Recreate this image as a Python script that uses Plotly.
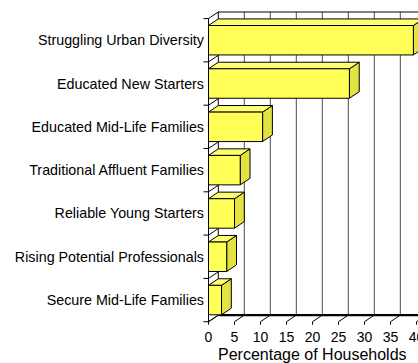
import plotly.graph_objects as go

# Segment shares, listed bottom-to-top as they appear on the chart
segments = [
    "Secure Mid-Life Families",
    "Rising Potential Professionals",
    "Reliable Young Starters",
    "Traditional Affluent Families",
    "Educated Mid-Life Families",
    "Educated New Starters",
    "Struggling Urban Diversity",
]
share_pct = [2.5, 3.5, 5.0, 6.1, 10.4, 27.1, 39.4]

x_ticks = [0, 5, 10, 15, 20, 25, 30, 35, 40]
x_tick_text = [str(v) for v in x_ticks]
x_title = "Percentage of Households"

# --- geometry of the pseudo-3D box (in data units) ---
X_MIN, X_MAX = -1.635, 40.288
Y_MIN, Y_MAX = -0.622, 6.698
DX, DY = 1.885, 0.152        # depth offset of the back wall
HALF = 0.34                   # half thickness of a bar
N = len(segments)
Y_LO, Y_HI = -0.5, N - 0.5

FRONT = "#FFFF57"
TOP = "#FFFF70"
SIDE = "#E2E240"
EDGE = "black"

shapes = []


def line(x0, y0, x1, y1, color=EDGE, width=1):
    shapes.append(dict(type="line", xref="x", yref="y", x0=x0, y0=y0, x1=x1, y1=y1,
                       line=dict(color=color, width=width), layer="below"))


def poly(pts, fill):
    path = "M " + " L ".join(f"{x},{y}" for x, y in pts) + " Z"
    shapes.append(dict(type="path", xref="x", yref="y", path=path, fillcolor=fill,
                       line=dict(color=EDGE, width=1), layer="below"))


# back wall gridlines
for v in x_ticks[1:]:
    line(v + DX, Y_LO + DY, v + DX, Y_HI + DY, color="#4d4d4d")
# back wall frame
line(DX, Y_HI + DY, X_MAX + 2, Y_HI + DY)
line(DX, Y_LO + DY, DX, Y_HI + DY)
line(DX, Y_LO + DY, X_MAX + 2, Y_LO + DY, width=2.2)

# left wall: front edge, boundary diagonals and outer ticks
line(0, Y_LO, 0, Y_HI)
for k in range(N + 1):
    b = k - 0.5
    line(0, b, DX, b + DY)
    line(-5 / 5.2, b, 0, b)

# floor: diagonals and small ticks under each value
for v in x_ticks:
    line(v, Y_LO, v + DX, Y_LO + DY)
    line(v, Y_LO, v, Y_LO - 3 / 43.3)

# side and top faces of every bar
for i, v in enumerate(share_pct):
    lo, hi = i - HALF, i + HALF
    poly([(v, lo), (v + DX, lo + DY), (v + DX, hi + DY), (v, hi)], SIDE)
    poly([(0, hi), (DX, hi + DY), (v + DX, hi + DY), (v, hi)], TOP)

fig = go.Figure()
fig.add_trace(go.Bar(
    x=share_pct,
    y=list(range(N)),
    orientation="h",
    width=2 * HALF,
    marker=dict(color=FRONT, line=dict(color=EDGE, width=1)),
    hoverinfo="skip",
))

FONT = "Liberation Sans, Arial, sans-serif"
fig.update_layout(
    template="none",
    width=418,
    height=363,
    margin=dict(l=200, r=0, t=10, b=36, pad=0),
    paper_bgcolor="white",
    plot_bgcolor="rgba(0,0,0,0)",
    showlegend=False,
    shapes=shapes,
    font=dict(family=FONT, color="black", size=14),
    xaxis=dict(
        range=[X_MIN, X_MAX],
        tickmode="array",
        tickvals=x_ticks,
        ticktext=x_tick_text,
        tickfont=dict(size=14),
        ticks="",
        showgrid=False,
        zeroline=False,
        showline=False,
        ticklabeloverflow="allow",
        automargin=False,
    ),
    yaxis=dict(
        range=[Y_MIN, Y_MAX],
        tickmode="array",
        tickvals=list(range(N)),
        ticktext=segments,
        tickfont=dict(size=14.3),
        ticks="",
        showgrid=False,
        zeroline=False,
        showline=False,
        anchor="free",
        position=4 / 218,
        automargin=False,
    ),
    annotations=[dict(
        text=x_title,
        xref="x", yref="paper",
        x=(x_ticks[0] + x_ticks[-1]) / 2,
        y=-(355 - 327) / 317,
        xanchor="center", yanchor="middle",
        showarrow=False,
        font=dict(size=16),
    )],
)

fig.write_html("out.html")
